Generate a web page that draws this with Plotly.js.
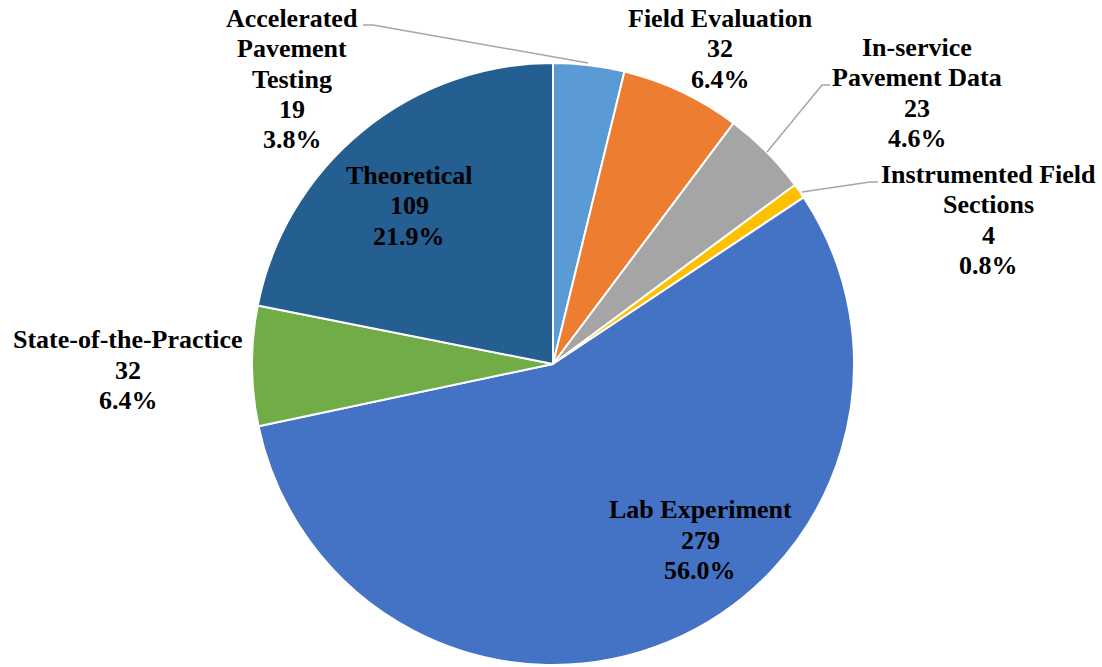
<!DOCTYPE html>
<html>
<head>
<meta charset="utf-8">
<script src="https://cdn.plot.ly/plotly-3.0.1.min.js"></script>
<style>html,body{margin:0;padding:0;background:#fff;}#chart{width:1102px;height:667px;}</style>
</head>
<body>
<div id="chart"></div>
<script>
// Data
const categories = ["Accelerated Pavement Testing", "Field Evaluation", "In-service Pavement Data", "Instrumented Field Sections", "Lab Experiment", "State-of-the-Practice", "Theoretical"];
const displayLabels = ["Accelerated|Pavement|Testing", "Field Evaluation", "In-service|Pavement Data", "Instrumented Field|Sections", "Lab Experiment", "State-of-the-Practice", "Theoretical"];
const counts = [19, 32, 23, 4, 279, 32, 109];
const colors = ["#5B9BD5", "#ED7D31", "#A5A5A5", "#FFC000", "#4472C4", "#70AD47", "#255E91"];

const W = 1102, H = 667;
const total = counts.reduce((a, b) => a + b, 0);

// label placement (pixel centres of label blocks)
const labelPos = [[292, 79], [720, 49], [917, 93], [988, 220], [700, 540], [128, 370], [409, 206]];
const lineGap = 30.5;
// leader lines (pixel polylines) for outside labels
const leaders = [
  [[363, 25], [373, 25], [588, 63]],
  [[830, 85], [822, 85], [767, 152]],
  [[878, 182], [870, 182], [802, 192]]
];

const px = x => x / W, py = y => 1 - y / H;

const annotations = [];
categories.forEach((c, i) => {
  const lines = displayLabels[i].split('|').concat([String(counts[i]), (counts[i] / total * 100).toFixed(1) + '%']);
  const n = lines.length;
  lines.forEach((t, k) => {
    annotations.push({
      xref: 'paper', yref: 'paper',
      x: px(labelPos[i][0]), y: py(labelPos[i][1] + (k - (n - 1) / 2) * lineGap),
      xanchor: 'center', yanchor: 'middle',
      showarrow: false, align: 'center',
      text: t,
      font: {family: 'Liberation Serif', size: 26, color: '#000', weight: 'bold'}
    });
  });
});

const shapes = [];
leaders.forEach(pts => {
  for (let k = 0; k < pts.length - 1; k++) {
    shapes.push({type: 'line', xref: 'paper', yref: 'paper',
      x0: px(pts[k][0]), y0: py(pts[k][1]), x1: px(pts[k+1][0]), y1: py(pts[k+1][1]),
      line: {color: '#A6A6A6', width: 1.5}});
  }
});

const trace = {
  type: 'pie',
  labels: categories,
  values: counts,
  sort: false,
  direction: 'clockwise',
  rotation: 0,
  textinfo: 'none',
  hoverinfo: 'label+value+percent',
  marker: {colors: colors, line: {color: '#FFFFFF', width: 2}},
  domain: {x: [252 / W, 854 / W], y: [py(665), py(63)]},
  showlegend: false
};

Plotly.newPlot('chart', [trace], {
  width: W, height: H,
  margin: {l: 0, r: 0, t: 0, b: 0},
  paper_bgcolor: '#fff',
  showlegend: false,
  annotations: annotations,
  shapes: shapes
}, {displayModeBar: false, staticPlot: true});
</script>
</body>
</html>
